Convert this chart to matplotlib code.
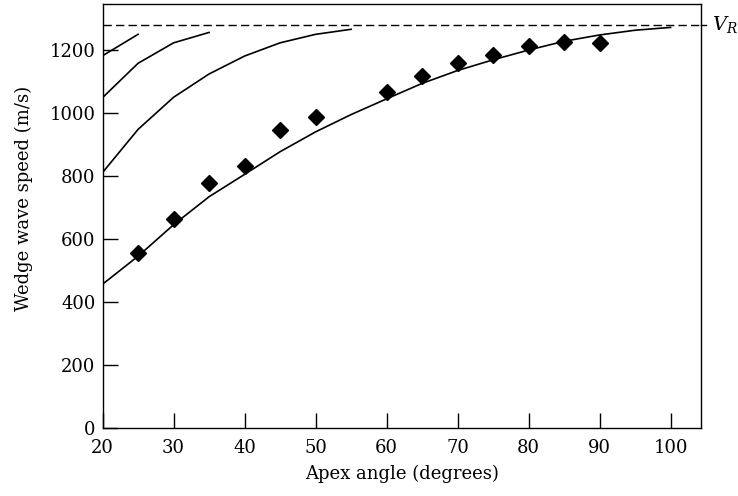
import matplotlib
matplotlib.use("Agg")
import matplotlib.pyplot as plt

# apex angle (degrees)
angle = [20, 25, 30, 35, 40, 45, 50, 55, 60, 65, 70, 75, 80, 85, 90, 95, 100]
# fundamental mode (theory)
mode1 = [456, 545, 645, 734, 805, 877, 940, 995, 1045, 1094, 1135, 1169, 1200, 1228, 1248, 1263, 1272]
# higher modes
angle2 = [20, 25, 30, 35, 40, 45, 50, 55]
mode2 = [811, 948, 1050, 1124, 1181, 1223, 1250, 1266]
angle3 = [20, 25, 30, 35]
mode3 = [1049, 1158, 1223, 1256]
angle4 = [20, 25]
mode4 = [1182, 1250]

# measured
meas_angle = [25, 30, 35, 40, 45, 50, 60, 65, 70, 75, 80, 85, 90]
meas_speed = [554, 663, 776, 832, 946, 988, 1066, 1117, 1160, 1184, 1214, 1227, 1221]

v_rayleigh = 1280

plt.rcParams["font.family"] = "DejaVu Serif"
plt.rcParams["mathtext.fontset"] = "dejavuserif"
plt.rcParams["font.size"] = 13

fig = plt.figure(figsize=(7.38, 4.96), dpi=100)
ax = fig.add_axes([0.139, 0.1377, 0.811, 0.854])

ax.plot(angle, mode1, color="k", lw=1.2)
ax.plot(angle2, mode2, color="k", lw=1.2)
ax.plot(angle3, mode3, color="k", lw=1.2)
ax.plot(angle4, mode4, color="k", lw=1.2)
ax.plot(meas_angle, meas_speed, "D", color="k", ms=8, ls="none")
ax.axhline(v_rayleigh, color="k", lw=1.0, ls=(0, (6, 3)))
# short dashed tail past the right spine
ax.plot([104.3, 105.0], [v_rayleigh, v_rayleigh], color="k", lw=1.0, clip_on=False)
ax.text(105.8, v_rayleigh, "$V_R$", va="center", ha="left", fontsize=14)

ax.set_xlim(20, 104.3)
ax.set_ylim(0, 1346)
ax.set_xticks([20, 30, 40, 50, 60, 70, 80, 90, 100])
ax.set_yticks([0, 200, 400, 600, 800, 1000, 1200])
ax.tick_params(direction="in", length=10.5, width=1.0, top=False, right=False)
ax.tick_params(axis="x", pad=8)
ax.tick_params(axis="y", pad=5)
ax.set_xlabel("Apex angle (degrees)", labelpad=6)
ax.set_ylabel("Wedge wave speed (m/s)")
ax.yaxis.set_label_coords(-0.117, 0.542)
for s in ax.spines.values():
    s.set_linewidth(1.0)

fig.savefig("out.png", dpi=100)
